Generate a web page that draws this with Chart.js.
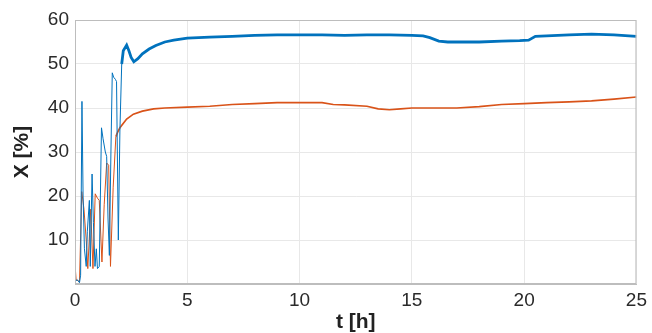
<!DOCTYPE html>
<html><head><meta charset="utf-8">
<script src="https://cdn.jsdelivr.net/npm/chart.js@4/dist/chart.umd.min.js"></script>
<style>html,body{margin:0;padding:0;background:#fff}canvas{display:block}</style>
</head><body><canvas id="c" width="652" height="333"></canvas>
<script>
const xTicks = [0, 5, 10, 15, 20, 25];
const yTicks = [10, 20, 30, 40, 50, 60];
const blueT = [0,0.1,0.2,0.25,0.31,0.36,0.42,0.5,0.55,0.64,0.68,0.76,0.82,0.89,0.95,1.0,1.08,1.18,1.25,1.35,1.41,1.47,1.53,1.6,1.66,1.72,1.8,1.85,1.93,2.0,2.08,2.15,2.3,2.4,2.5,2.62,2.8,3.0,3.3,3.6,4.0,4.4,5,5.5,6,7,8,9,10,11,12,13,14,15,15.5,15.8,16.2,16.6,17,18,19,19.8,20.2,20.5,21,22,23,24,25];
const blueX = [0.5,1,0.3,2,41.5,20,8,4,12,19,4,25,14,4,8,3.5,4,35.5,33,30,29,15,6.5,30,48,47,46.5,46,10,35,50,53,54.3,53,51.5,50.5,51.2,52.3,53.4,54.2,55,55.4,55.9,56,56.1,56.3,56.5,56.6,56.6,56.6,56.5,56.6,56.6,56.5,56.4,56,55.2,55,55,55,55.2,55.3,55.4,56.3,56.4,56.6,56.8,56.6,56.3];
const orangeT = [0,0.05,0.2,0.3,0.4,0.5,0.57,0.7,0.8,0.9,1.0,1.08,1.2,1.3,1.41,1.5,1.58,1.7,1.82,1.9,2.0,2.3,2.6,3,3.5,4,5,6,7,8,9,10,11,11.5,12,13,13.5,14,14.5,15,16,17,18,19,20,21,22,23,24,25];
const orangeX = [4.5,1,0.5,21,17,10,3.5,17,3.5,20.5,19.5,19,5,18,27.5,27,4,22,33.5,34.5,35.5,37.5,38.6,39.3,39.8,40,40.2,40.4,40.8,41,41.2,41.2,41.2,40.8,40.7,40.4,39.8,39.6,39.8,40,40,40,40.3,40.8,41,41.2,41.4,41.6,42,42.5];

const toPts = (t, v) => t.map((x, i) => ({x, y: v[i]}));
const frame = {
  id: 'frame',
  afterDraw(chart) {
    const a = chart.chartArea, ctx = chart.ctx;
    ctx.save(); ctx.strokeStyle = '#bdbdbd'; ctx.lineWidth = 1;
    ctx.strokeRect(a.left + 0.5, a.top + 0.5, a.right - a.left - 1, a.bottom - a.top - 1);
    ctx.restore();
  }
};
const fam = '"Liberation Sans", Arial, sans-serif';
const font = {family: fam, size: 19};
const tfont = {family: fam, size: 21, weight: 'bold', lineHeight: 1};
new Chart(document.getElementById('c'), {
  type: 'line',
  data: { datasets: [
    { data: toPts(blueT, blueX), borderColor: '#0072BD', pointRadius: 0, tension: 0,
      segment: { borderWidth: c => c.p0.parsed.x < 2.05 ? 1 : 2.8 } },
    { data: toPts(orangeT, orangeX), borderColor: '#D95319', pointRadius: 0, tension: 0,
      segment: { borderWidth: c => c.p0.parsed.x < 1.8 ? 1 : 1.7 } }
  ]},
  plugins: [frame],
  options: {
    responsive: false, animation: false, devicePixelRatio: 1,
    layout: { padding: { left: 0, right: 14, top: 20, bottom: 0 } },
    plugins: { legend: { display: false }, tooltip: { enabled: false } },
    scales: {
      x: { type: 'linear', min: 0, max: 25,
        afterBuildTicks: s => { s.ticks = xTicks.map(v => ({value: v})); },
        afterFit: s => { s.height = 49; },
        grid: { color: '#e8e8e8', drawTicks: false },
        border: { color: '#bdbdbd' },
        ticks: { font, color: '#2a2a2a', padding: 5, maxRotation: 0 },
        title: { display: true, text: 't [h]', font: tfont, color: '#222', padding: {top: 0, bottom: 0} } },
      y: { min: 0, max: 60,
        afterBuildTicks: s => { s.ticks = [0].concat(yTicks).map(v => ({value: v})); },
        afterFit: s => { s.width = 75; },
        grid: { color: '#e8e8e8', drawTicks: false },
        border: { color: '#bdbdbd' },
        ticks: { font, color: '#2a2a2a', padding: 6, callback: v => v === 0 ? '' : v },
        title: { display: true, text: 'X [%]', font: tfont, color: '#222', padding: {top: 12, bottom: 0} } }
    }
  }
});
</script></body></html>
